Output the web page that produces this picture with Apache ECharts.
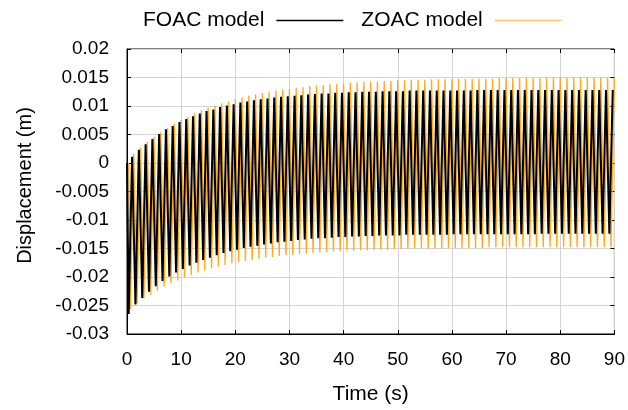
<!DOCTYPE html>
<html>
<head>
<meta charset="utf-8">
<script src="https://cdn.jsdelivr.net/npm/echarts@6/dist/echarts.min.js"></script>
<style>html,body{margin:0;padding:0;background:#fff;}#c{width:628px;height:410px;}</style>
</head>
<body>
<div id="c"></div>
<script>
// Series names
const seriesNames = ['FOAC model', 'ZOAC model'];
// Oscillation timing (s)
const cyclePeriod = 1.25;
const foacPhase = 0.0;
const zoacPhase = 0.3;
const startValue = 0.0;
// FOAC: upper and lower extremes of each cycle (m)
const foacPeaks = [0.0011,0.0023,0.0033,0.0042,0.0051,0.0059,0.0065,0.0072,0.0077,0.0082,
  0.0087,0.0091,0.0094,0.0098,0.0101,0.0103,0.0106,0.0108,0.0110,0.0112,
  0.0113,0.0115,0.0116,0.0117,0.0118,0.0119,0.0120,0.0121,0.0122,0.0122,
  0.0123,0.0123,0.0124,0.0124,0.0125,0.0125,0.0125,0.0126,0.0126,0.0126,
  0.0126,0.0127,0.0127,0.0127,0.0127,0.0127,0.0127,0.0127,0.0127,0.0127,
  0.0127,0.0128,0.0128,0.0128,0.0128,0.0128,0.0128,0.0128,0.0128,0.0128,
  0.0128,0.0128,0.0128,0.0128,0.0128,0.0128,0.0128,0.0128,0.0128,0.0128,
  0.0128,0.0128];
const foacTroughs = [-0.0265,-0.0248,-0.0237,-0.0226,-0.0216,-0.0207,-0.0199,-0.0192,-0.0186,-0.0180,
  -0.0175,-0.0170,-0.0166,-0.0162,-0.0158,-0.0155,-0.0152,-0.0149,-0.0147,-0.0145,
  -0.0143,-0.0141,-0.0139,-0.0138,-0.0137,-0.0135,-0.0134,-0.0133,-0.0132,-0.0132,
  -0.0131,-0.0130,-0.0130,-0.0129,-0.0129,-0.0128,-0.0128,-0.0127,-0.0127,-0.0127,
  -0.0127,-0.0126,-0.0126,-0.0126,-0.0126,-0.0126,-0.0126,-0.0126,-0.0125,-0.0125,
  -0.0125,-0.0125,-0.0125,-0.0125,-0.0125,-0.0125,-0.0125,-0.0125,-0.0125,-0.0125,
  -0.0125,-0.0124,-0.0124,-0.0124,-0.0124,-0.0124,-0.0124,-0.0124,-0.0124,-0.0124,
  -0.0124,-0.0124];
// ZOAC: upper and lower extremes of each cycle (m)
const zoacPeaks = [0.0016,0.0027,0.0037,0.0046,0.0054,0.0062,0.0069,0.0075,0.0081,0.0087,
  0.0092,0.0097,0.0101,0.0105,0.0108,0.0112,0.0115,0.0118,0.0120,0.0123,
  0.0125,0.0127,0.0129,0.0130,0.0132,0.0133,0.0135,0.0136,0.0137,0.0138,
  0.0139,0.0140,0.0141,0.0141,0.0142,0.0143,0.0143,0.0144,0.0144,0.0145,
  0.0145,0.0146,0.0146,0.0146,0.0147,0.0147,0.0147,0.0147,0.0148,0.0148,
  0.0148,0.0148,0.0148,0.0148,0.0149,0.0149,0.0149,0.0149,0.0149,0.0149,
  0.0149,0.0150,0.0150,0.0150,0.0150,0.0150,0.0150,0.0150,0.0150,0.0150,
  0.0150,0.0150];
const zoacTroughs = [-0.0256,-0.0247,-0.0238,-0.0231,-0.0224,-0.0217,-0.0211,-0.0206,-0.0201,-0.0197,
  -0.0192,-0.0189,-0.0185,-0.0182,-0.0179,-0.0176,-0.0174,-0.0172,-0.0170,-0.0168,
  -0.0166,-0.0165,-0.0163,-0.0162,-0.0161,-0.0160,-0.0159,-0.0158,-0.0157,-0.0156,
  -0.0155,-0.0155,-0.0154,-0.0154,-0.0153,-0.0153,-0.0152,-0.0152,-0.0152,-0.0151,
  -0.0151,-0.0151,-0.0150,-0.0150,-0.0150,-0.0150,-0.0150,-0.0149,-0.0149,-0.0149,
  -0.0149,-0.0149,-0.0149,-0.0148,-0.0148,-0.0148,-0.0148,-0.0148,-0.0148,-0.0148,
  -0.0148,-0.0148,-0.0148,-0.0148,-0.0148,-0.0148,-0.0148,-0.0148,-0.0148,-0.0148,
  -0.0148,-0.0148];
// Axis ranges and ticks
const xTicks = [0,10,20,30,40,50,60,70,80,90];
const yTicks = [-0.03,-0.025,-0.02,-0.015,-0.01,-0.005,0,0.005,0.01,0.015,0.02];

function buildSeries(phase, troughs, peaks) {
  const pts = [[phase, startValue]];
  for (let k = 0; k < troughs.length; k++) {
    pts.push([phase + k * cyclePeriod + cyclePeriod * 0.25, troughs[k]]);
    pts.push([phase + k * cyclePeriod + cyclePeriod * 0.75, peaks[k]]);
  }
  return pts;
}

const FONT = '"Liberation Sans", Arial, Helvetica, sans-serif';
const xMin = xTicks[0], xMax = xTicks[xTicks.length - 1];
const yMin = yTicks[0], yMax = yTicks[yTicks.length - 1];
const tickStyle = {show: true, inside: true, length: 4, lineStyle: {color: '#000'}};
const chart = echarts.init(document.getElementById('c'), null, {renderer: 'canvas'});
chart.setOption({
  animation: false,
  backgroundColor: '#fff',
  textStyle: {fontFamily: FONT},
  legend: {
    data: seriesNames,
    left: 138, top: 5,
    align: 'right',
    icon: 'rect',
    itemWidth: 67, itemHeight: 1.5,
    itemGap: 18,
    textStyle: {fontSize: 21, color: '#000', fontFamily: FONT, padding: [0, 7, 0, 0]}
  },
  grid: {left: 127, right: 13, top: 49, bottom: 71, show: true, borderColor: '#000', borderWidth: 1, containLabel: false},
  xAxis: [{
    type: 'value', min: xMin, max: xMax, interval: 10,
    name: 'Time (s)', nameLocation: 'middle', nameGap: 50,
    nameTextStyle: {fontSize: 21, color: '#000', fontFamily: FONT},
    axisLine: {show: true, onZero: false, lineStyle: {color: '#000', width: 1}},
    axisTick: tickStyle,
    axisLabel: {fontSize: 19, color: '#000', margin: 16, fontFamily: FONT},
    splitLine: {show: true, lineStyle: {color: '#d4d4d4', width: 1}}
  }, {
    type: 'value', position: 'top', min: xMin, max: xMax, interval: 10,
    axisLine: {show: false, onZero: false}, axisTick: tickStyle, axisLabel: {show: false}, splitLine: {show: false}
  }],
  yAxis: [{
    type: 'value', min: yMin, max: yMax, interval: 0.005,
    name: 'Displacement (m)', nameLocation: 'middle', nameGap: 92, nameRotate: 90,
    nameTextStyle: {fontSize: 20, color: '#000', fontFamily: FONT, padding: [0, 0, 0, 12]},
    axisLine: {show: true, onZero: false, lineStyle: {color: '#000', width: 1}},
    axisTick: tickStyle,
    axisLabel: {fontSize: 19, color: '#000', margin: 18, fontFamily: FONT,
      formatter: v => String(+v.toFixed(3))},
    splitLine: {show: true, lineStyle: {color: '#d4d4d4', width: 1}}
  }, {
    type: 'value', position: 'right', min: yMin, max: yMax, interval: 0.005,
    axisLine: {show: false, onZero: false}, axisTick: tickStyle, axisLabel: {show: false}, splitLine: {show: false}
  }],
  series: [
    {
      name: seriesNames[1], type: 'line', showSymbol: false, symbol: 'none',
      data: buildSeries(zoacPhase, zoacTroughs, zoacPeaks),
      lineStyle: {color: '#ffa820', width: 1.3}, itemStyle: {color: '#ffc870'}
    },
    {
      name: seriesNames[0], type: 'line', showSymbol: false, symbol: 'none',
      data: buildSeries(foacPhase, foacTroughs, foacPeaks),
      lineStyle: {color: '#000', width: 2}, itemStyle: {color: '#000'}
    }
  ]
});
</script>
</body>
</html>
